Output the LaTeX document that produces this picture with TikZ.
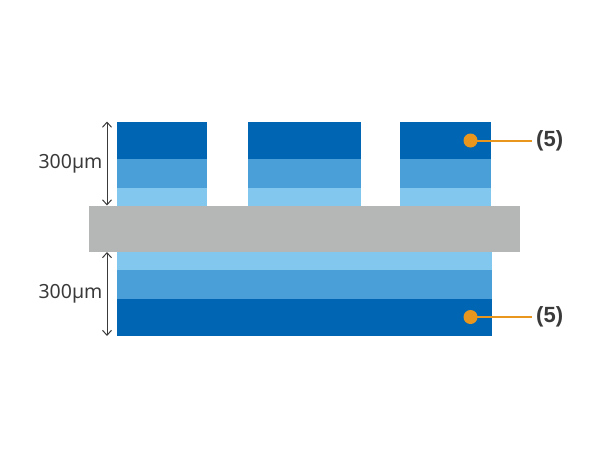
\documentclass[tikz,border=0pt]{standalone}
\usepackage{fontspec}
\setmainfont{Noto Sans}
\newfontfamily\cfont{Liberation Sans}
\usetikzlibrary{arrows.meta}
\definecolor{dk}{HTML}{0066B3}
\definecolor{md}{HTML}{4A9FD8}
\definecolor{lt}{HTML}{82C8EE}
\definecolor{gr}{HTML}{B5B6B6}
\definecolor{og}{HTML}{E8961E}
\definecolor{tx}{HTML}{3A3A3A}
\begin{document}
\begin{tikzpicture}[x=1pt,y=-1pt,
  dim/.style={draw=tx,line width=1pt,{Straight Barb[length=5pt,width=9pt,line width=1pt]}-{Straight Barb[length=5pt,width=9pt,line width=1pt]}},
  dimlabel/.style={text=tx,font=\fontsize{19.5}{20}\selectfont,inner sep=0pt},
  dot/.style={circle,fill=og,minimum size=14pt,inner sep=0pt},
  leader/.style={draw=og,line width=2pt},
  callout/.style={text=tx,font=\cfont\fontsize{22}{22}\selectfont\bfseries,inner sep=0pt,anchor=west}]
\useasboundingbox (0,0) rectangle (600,451);
% top blocks
\foreach \a/\b in {117/207,248/361,400/491}{
  \fill[dk] (\a,121.5) rectangle (\b,158.5);
  \fill[md] (\a,158.5) rectangle (\b,188);
  \fill[lt] (\a,188) rectangle (\b,206);
}
% grey substrate
\fill[gr] (89,205.5) rectangle (520,252);
% bottom layers
\fill[lt] (117,252) rectangle (492,269.5);
\fill[md] (117,269.5) rectangle (492,299);
\fill[dk] (117,299) rectangle (492,336);
% dimensions
\coordinate (t1) at (107,121.5);
\coordinate (t2) at (107,205.5);
\coordinate (b1) at (107,252);
\coordinate (b2) at (107,336);
\draw[dim] (t1) -- (t2);
\draw[dim] (b1) -- (b2);
\node[dimlabel] (l1) at (70.5,164) {300µm};
\node[dimlabel] (l2) at (70.5,294) {300µm};
% callouts
\node[dot] (d1) at (470.5,140.5) {};
\node[dot] (d2) at (470.5,317) {};
\node[callout] (c1) at (536,140.5) {(5)};
\node[callout] (c2) at (536,317) {(5)};
\coordinate (e1) at (531.5,140.5);
\coordinate (e2) at (531.5,317);
\draw[leader] (d1.center) -- (e1);
\draw[leader] (d2.center) -- (e2);
\end{tikzpicture}
\end{document}
